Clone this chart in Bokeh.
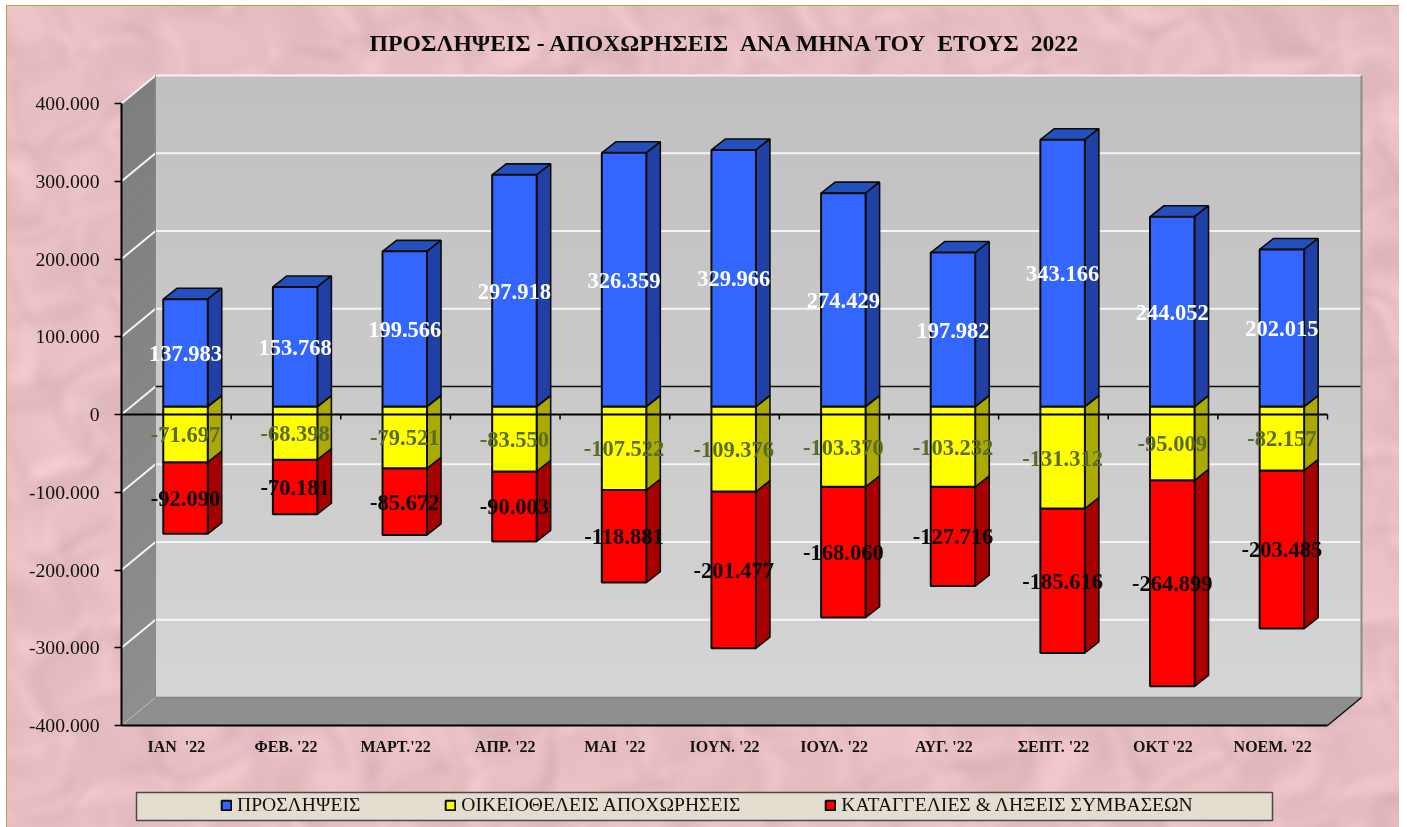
import numpy as np
from bokeh.plotting import figure
from bokeh.embed import file_html
from bokeh.resources import INLINE
from bokeh.core.properties import value
from bokeh.models import (LinearAxis, FixedTicker, Legend, LegendItem, ColumnDataSource, Range1d)

NB = "\u00a0"
title_text = f"ΠΡΟΣΛΗΨΕΙΣ - ΑΠΟΧΩΡΗΣΕΙΣ {NB}ΑΝΑ ΜΗΝΑ ΤΟΥ {NB}ΕΤΟΥΣ {NB}2022"
months = [f"ΙΑΝ {NB}'22", "ΦΕΒ. '22", "ΜΑΡΤ.'22", "ΑΠΡ. '22", f"ΜΑΙ {NB}'22", "ΙΟΥΝ. '22",
          "ΙΟΥΛ. '22", "ΑΥΓ. '22", "ΣΕΠΤ. '22", "ΟΚΤ '22", "ΝΟΕΜ. '22"]
hires = [137983, 153768, 199566, 297918, 326359, 329966, 274429, 197982, 343166, 244052, 202015]
quits = [-71697, -68398, -79521, -83550, -107522, -109376, -103370, -103232, -131312, -95009, -82157]
layoffs = [-92090, -70181, -85672, -90003, -118881, -201477, -168060, -127716, -185616, -264899, -203485]
y_ticks = [-400000, -300000, -200000, -100000, 0, 100000, 200000, 300000, 400000]
series_names = ["ΠΡΟΣΛΗΨΕΙΣ", "ΟΙΚΕΙΟΘΕΛΕΙΣ ΑΠΟΧΩΡΗΣΕΙΣ", "ΚΑΤΑΓΓΕΛΙΕΣ & ΛΗΞΕΙΣ ΣΥΜΒΑΣΕΩΝ"]

SERIF = "Liberation Serif"
PX_PER_CAT = 109.64
PX_PER_VAL = 0.0007775


def X(px):
    return (px - 175.8) / PX_PER_CAT


def Y(py):
    return (414 - py) / PX_PER_VAL


def fmt(v):
    return f"{v:,}".replace(",", ".")


W, H = 1393, 822
p = figure(width=W, height=H, output_backend="svg", toolbar_location=None,
           x_axis_type=None, y_axis_type=None, min_border=0,
           x_range=Range1d(X(6), X(1399)), y_range=Range1d(Y(827), Y(5)),
           outline_line_color="#A89C1C", outline_line_width=2,
           background_fill_color="#E8BFC2", border_fill_color="#E8BFC2")
p.styles = {"position": "fixed", "left": "6px", "top": "5px"}


def mottled(nx, ny, base, amp, alpha=255):
    yy, xx = np.mgrid[0:ny, 0:nx].astype(float)
    warp_x = xx + 7 * np.sin(yy * 0.09 + 1.3) + 5 * np.sin(xx * 0.13 + yy * 0.07)
    warp_y = yy + 7 * np.sin(xx * 0.08 + 0.4) + 5 * np.sin(yy * 0.15 - xx * 0.05)
    t = np.zeros_like(xx)
    for k in range(1, 60):
        ang = k * 2.39996
        f = 0.07 + 0.035 * (k % 11) + 0.0013 * k
        t += np.sin((np.cos(ang) * warp_x + np.sin(ang) * warp_y) * f + k * 1.7) / (1 + 0.2 * (k % 11))
    t = t / np.abs(t).max()
    img = np.zeros((ny, nx, 4), dtype=np.uint8)
    for c in range(3):
        img[:, :, c] = np.clip(base[c] + amp * t, 0, 255).astype(np.uint8)
    img[:, :, 3] = alpha
    return img.view(np.uint32).reshape(ny, nx)


tex = mottled(W // 2, H // 2, (231, 190, 193), 15)
p.image_rgba(image=[tex], x=X(6), y=Y(827), dw=X(1399) - X(6), dh=Y(5) - Y(827))

# walls
grad_n = 64
grad = np.zeros((grad_n, 2, 4), dtype=np.uint8)
for r in range(grad_n):
    g = int(213 - 21 * r / (grad_n - 1))
    grad[r, :, :] = (g, g, g, 255)
p.image_rgba(image=[grad.view(np.uint32).reshape(grad_n, 2)], x=X(155), y=Y(697),
             dw=X(1361) - X(155), dh=Y(75) - Y(697))

D = Y(386) - Y(414)
DX0, DX1 = X(121), X(155)
levels = np.linspace(-400000, 400000, 33)
wall_xs, wall_ys, wall_cols = [], [], []
for a, b in zip(levels[:-1], levels[1:]):
    wall_xs.append([DX0, DX1, DX1, DX0])
    wall_ys.append([a, a + D, b + D, b])
    g = int(142 - 16 * (a + 400000) / 800000)
    wall_cols.append(f"#{g:02x}{g:02x}{g:02x}")
p.patches(wall_xs, wall_ys, fill_color=wall_cols, line_color=wall_cols, line_width=0.6)
p.patch([X(121), X(155), X(1361), X(1327)], [Y(725), Y(697), Y(697), Y(725)],
        fill_color="#8F8F8F", line_color="#8F8F8F")

# grid lines on the back wall and side wall
grid_vals = [v for v in y_ticks if v not in (0, -400000)]
p.segment(X(155), [v + D for v in grid_vals], X(1361), [v + D for v in grid_vals],
          line_color="#F4F4F4", line_width=2)
p.segment(DX0, grid_vals + [0], DX1, [v + D for v in grid_vals + [0]], line_color="#F4F4F4", line_width=2)
p.segment(DX0, -400000, DX1, -400000 + D, line_color="#BDBDBD", line_width=1)
p.segment(X(155), D, X(1361), D, line_color="#111111", line_width=1.6)
p.segment(X(155), -400000 + D, X(1361), -400000 + D, line_color="#858585", line_width=1.5)
p.segment(X(1361), -400000 + D, X(1361), 400000 + D, line_color="#8A8A8A", line_width=2)
p.segment(X(155), -400000 + D, X(155), 400000 + D, line_color="#8A8A8A", line_width=1)
p.segment(X(1361), -400000 + D, X(1327), -400000, line_color="#111111", line_width=1.5)

# bars
idx = np.arange(len(months), dtype=float)
hires_a, quits_a, layoffs_a = np.array(hires, float), np.array(quits, float), np.array(layoffs, float)
bw = 44.5 / PX_PER_CAT
ox = 9.2 / PX_PER_CAT
oy = 8 / PX_PER_VAL
sx = 14 / PX_PER_CAT
sy = 11 / PX_PER_VAL
left = idx + ox - bw / 2
right = idx + ox + bw / 2


def bar(lo, hi, face, side, top_col=None):
    """lo/hi are value arrays of the stack segment"""
    for i in range(len(idx)):
        if top_col:
            p.patch([left[i], left[i] + sx, right[i] + sx, right[i]],
                    [hi[i] + oy, hi[i] + oy + sy, hi[i] + oy + sy, hi[i] + oy],
                    fill_color=top_col, line_color="#0C0C0C", line_width=1.6)
        p.patch([right[i], right[i] + sx, right[i] + sx, right[i]],
                [lo[i] + oy, lo[i] + oy + sy, hi[i] + oy + sy, hi[i] + oy],
                fill_color=side, line_color="#0C0C0C", line_width=1.6)
    return p.quad(left=left, right=right, bottom=lo + oy, top=hi + oy,
                  fill_color=face, line_color="#0C0C0C", line_width=2)


zero = np.zeros(len(idx))
r_red = bar(quits_a + layoffs_a, quits_a, "#FF0000", "#A80000")
r_yel = bar(quits_a, zero, "#FFFF00", "#AAAA00")
r_blu = bar(zero, hires_a, "#3366FF", "#2040A6", "#2450BE")

# front zero line with its category ticks
p.segment(X(121), 0, X(1327), 0, line_color="#000000", line_width=2)
boundaries = idx + 0.5
p.segment(boundaries, 0, boundaries, -5 / PX_PER_VAL, line_color="#000000", line_width=1.5)

# axes
yax = LinearAxis(fixed_location=X(121), ticker=FixedTicker(ticks=y_ticks),
                 major_label_overrides={v: fmt(v) for v in y_ticks}, bounds=(-400000, 400000),
                 major_tick_in=0, major_tick_out=7, minor_tick_out=0, minor_tick_in=0,
                 axis_line_color="#000000", axis_line_width=2,
                 major_tick_line_color="#000000", major_tick_line_width=1.5,
                 major_label_text_font=SERIF, major_label_text_font_size="19.7px",
                 major_label_text_color="#111111", major_label_standoff=15)
p.add_layout(yax, "left")

bottom = LinearAxis(fixed_location=-400000, ticker=FixedTicker(ticks=list(idx)),
                    major_label_overrides={float(i): m for i, m in enumerate(months)} | {i: m for i, m in enumerate(months)},
                    bounds=(X(121), X(1327)),
                    major_tick_in=0, major_tick_out=0, minor_tick_out=0, minor_tick_in=0,
                    axis_line_color="#000000", axis_line_width=2,
                    major_label_text_font=SERIF, major_label_text_font_style="bold",
                    major_label_text_font_size="16px", major_label_text_color="#111111",
                    major_label_standoff=12)
p.add_layout(bottom, "below")

# value labels
lx = idx + ox
for vals, base, col in ((hires_a, zero, "#FFFFFF"), (quits_a, zero, "#5B6B2A"), (layoffs_a, quits_a, "#0A0A0A")):
    src = ColumnDataSource(dict(x=lx, y=base + vals / 2 + oy - 0.5 / PX_PER_VAL,
                                t=[fmt(int(v)) for v in vals]))
    p.text("x", "y", text="t", source=src, text_align="center", text_baseline="middle",
           text_color=col, text_font=value(SERIF), text_font_style="bold",
           text_font_size="22.5px", level="annotation")

# title
p.text([X(725.5)], [Y(42)], text=[title_text], text_align="center", text_baseline="middle",
       text_color="#0A0A0A", text_font=value(SERIF), text_font_style="bold", text_font_size="23.7px")

# legend box
p.quad(left=X(136), right=X(1272), bottom=Y(820), top=Y(792), fill_color="#E5DED0",
       line_color="#4A4A4A", line_width=1.5)
legend = Legend(items=[LegendItem(label=series_names[0], renderers=[r_blu]),
                       LegendItem(label=series_names[1], renderers=[r_yel]),
                       LegendItem(label=series_names[2], renderers=[r_red])],
                orientation="horizontal", location=(214, 827 - 820 + 4), margin=0, padding=0,
                spacing=84, glyph_width=12, glyph_height=12, label_standoff=5,
                label_text_font=SERIF, label_text_font_size="19.6px", label_text_color="#111111",
                label_height=20, background_fill_alpha=0, border_line_alpha=0)
p.add_layout(legend, "center")

open("out.html", "w").write(file_html(p, INLINE))
